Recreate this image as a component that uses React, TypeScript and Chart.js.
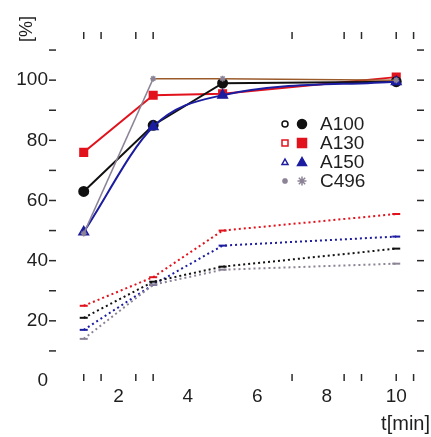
import React, { useEffect, useRef } from 'react';
import { Chart, registerables } from 'chart.js';

Chart.register(...registerables);

const times = [1, 3, 5, 10];
const seriesNames = ['A100', 'A130', 'A150', 'C496'];
const a100Solid = [63, 85, 99, 99.5];
const a130Solid = [76, 95, 95.5, 101];
const a150Solid = [49.5, 84.5, 95, 99.5];
const c496Solid = [49, 100.5, 100.5, 100];
const a100Dotted = [21, 33, 38, 44];
const a130Dotted = [25, 34.5, 50, 55.5];
const a150Dotted = [17, 32, 45, 48];
const c496Dotted = [14, 32, 37, 39];
const xTickLabels = [2, 4, 6, 8, 10];
const yTickLabels = [0, 20, 40, 60, 80, 100];
const xMarkTicks = [1, 1.5, 2.5, 3, 7, 8.5, 9, 10, 10.5];
const yMarkTicks = [10, 20, 30, 40, 50, 60, 70, 80, 90, 100, 110];

const FONT = '"Liberation Sans", Arial, sans-serif';
const TEXT = '#1e1e1e';
const BLACK = '#111111';
const RED = '#e2121c';
const BLUE = '#1c1ca0';
const GREY = '#8c8496';
const BROWN = '#9a5a2a';

const pts = (arr: number[]) => times.map((t, i) => ({ x: t, y: arr[i] }));

function drawMarker(ctx: CanvasRenderingContext2D, style: string, x: number, y: number, r: number, color: string, filled: boolean) {
  ctx.save();
  ctx.strokeStyle = color;
  ctx.fillStyle = color;
  ctx.lineWidth = 1.5;
  ctx.beginPath();
  if (style === 'circle') {
    ctx.arc(x, y, r, 0, Math.PI * 2);
  } else if (style === 'rect') {
    ctx.rect(x - r, y - r, 2 * r, 2 * r);
  } else if (style === 'triangle') {
    ctx.moveTo(x, y - r);
    ctx.lineTo(x + r, y + r * 0.8);
    ctx.lineTo(x - r, y + r * 0.8);
    ctx.closePath();
  } else {
    for (let k = 0; k < 4; k++) {
      const a = (k * Math.PI) / 4;
      ctx.moveTo(x - Math.cos(a) * r, y - Math.sin(a) * r);
      ctx.lineTo(x + Math.cos(a) * r, y + Math.sin(a) * r);
    }
  }
  if (filled && style !== 'star') ctx.fill();
  ctx.stroke();
  ctx.restore();
}

const decor = {
  id: 'decor',
  afterDatasetsDraw(chart: any) {
    const { ctx, chartArea: a, scales } = chart;
    const x = scales.x;
    const y = scales.y;
    ctx.save();
    ctx.strokeStyle = '#2a2a2a';
    ctx.lineWidth = 1.5;
    const seg = (x1: number, y1: number, x2: number, y2: number) => {
      ctx.beginPath();
      ctx.moveTo(x1, y1);
      ctx.lineTo(x2, y2);
      ctx.stroke();
    };
    xMarkTicks.forEach((v) => {
      const px = x.getPixelForValue(v);
      seg(px, a.bottom, px, a.bottom - 7);
      seg(px, a.top, px, a.top + 7);
    });
    yMarkTicks.forEach((v) => {
      const py = y.getPixelForValue(v);
      seg(a.left, py, a.left + 7, py);
      seg(a.right, py, a.right - 7, py);
    });

    ctx.fillStyle = TEXT;
    ctx.font = `20px ${FONT}`;
    ctx.textAlign = 'right';
    ctx.textBaseline = 'alphabetic';
    ctx.fillText('t[min]', 430, 430);

    ctx.save();
    ctx.translate(27, 29);
    ctx.rotate(-Math.PI / 2);
    ctx.textAlign = 'center';
    ctx.textBaseline = 'middle';
    ctx.font = `18px ${FONT}`;
    ctx.fillText('[%]', 0, 0);
    ctx.restore();

    const styles = ['circle', 'rect', 'triangle', 'star'];
    const colors = [BLACK, RED, BLUE, GREY];
    seriesNames.forEach((name, i) => {
      const ly = 124 + i * 19;
      drawMarker(ctx, styles[i], 285, ly, 3, colors[i], false);
      drawMarker(ctx, styles[i], 302, ly, 4.5, colors[i], true);
      ctx.fillStyle = TEXT;
      ctx.font = `19px ${FONT}`;
      ctx.textAlign = 'left';
      ctx.textBaseline = 'middle';
      ctx.fillText(name, 320, ly + 1);
    });
    ctx.restore();
  },
};

export default function App() {
  const ref = useRef<HTMLCanvasElement | null>(null);
  useEffect(() => {
    if (!ref.current) return;
    const dotted = (label: string, arr: number[], color: string) => ({
      label,
      data: pts(arr),
      borderColor: color,
      backgroundColor: color,
      borderWidth: 2,
      borderDash: [2, 3],
      pointStyle: 'line',
      pointRadius: 4,
      pointBorderWidth: 2,
    });
    const chart = new Chart(ref.current, {
      type: 'line',
      data: {
        datasets: [
          dotted('C496 dotted', c496Dotted, GREY),
          dotted('A100 dotted', a100Dotted, BLACK),
          dotted('A150 dotted', a150Dotted, BLUE),
          dotted('A130 dotted', a130Dotted, RED),
          {
            label: 'C496',
            data: pts(c496Solid),
            borderColor: BROWN,
            backgroundColor: GREY,
            borderWidth: 1.5,
            pointStyle: 'star',
            pointRadius: 3,
            pointBorderColor: GREY,
            segment: {
              borderColor: (c: any) => (c.p0.parsed.x < 2 ? GREY : BROWN),
            },
          } as any,
          {
            label: 'A150',
            data: pts(a150Solid),
            borderColor: BLUE,
            backgroundColor: BLUE,
            borderWidth: 2,
            pointStyle: 'triangle',
            pointRadius: 5,
            cubicInterpolationMode: 'monotone',
          },
          {
            label: 'A100',
            data: pts(a100Solid),
            borderColor: BLACK,
            backgroundColor: BLACK,
            borderWidth: 2,
            pointStyle: 'circle',
            pointRadius: 4.5,
          },
          {
            label: 'A130',
            data: pts(a130Solid),
            borderColor: RED,
            backgroundColor: RED,
            borderWidth: 2,
            pointStyle: 'rect',
            pointRadius: 5,
          },
        ] as any,
      },
      options: {
        animation: false,
        responsive: false,
        layout: { padding: { left: 0, right: 3, top: 32, bottom: 0 } },
        plugins: { legend: { display: false }, tooltip: { enabled: false } },
        scales: {
          x: {
            type: 'linear',
            min: 0,
            max: 10.8,
            grid: { display: false, drawTicks: false },
            border: { display: false },
            afterBuildTicks: (s: any) => {
              s.ticks = xTickLabels.map((v) => ({ value: v }));
            },
            afterFit: (s: any) => {
              s.height = 56;
            },
            ticks: { padding: 4, color: TEXT, font: { family: FONT, size: 19 }, maxRotation: 0 },
          },
          y: {
            type: 'linear',
            min: 0,
            max: 116,
            grid: { display: false, drawTicks: false },
            border: { display: false },
            afterBuildTicks: (s: any) => {
              s.ticks = yTickLabels.map((v) => ({ value: v }));
            },
            afterFit: (s: any) => {
              s.width = 49;
            },
            ticks: { padding: 1, color: TEXT, font: { family: FONT, size: 19 } },
          },
        },
      } as any,
      plugins: [decor],
    });
    return () => chart.destroy();
  }, []);
  return (
    <div style={{ position: 'fixed', left: 0, top: 0, width: 431, height: 437, background: '#fff' }}>
      <canvas ref={ref} width={431} height={437} style={{ width: 431, height: 437, display: 'block' }} />
    </div>
  );
}
